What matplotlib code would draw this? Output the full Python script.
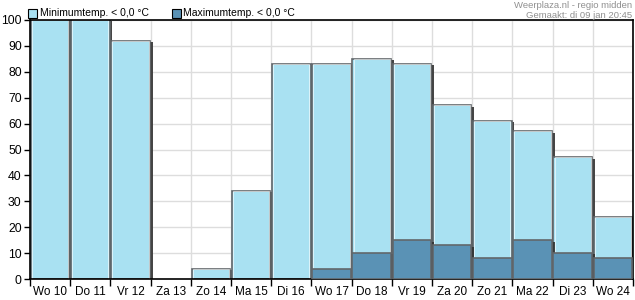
import matplotlib.pyplot as plt
from matplotlib.patches import Rectangle
import matplotlib.patheffects as pe
import numpy as np

plt.rcParams['font.family'] = ['Liberation Sans', 'DejaVu Sans']

dagen = ["Wo 10", "Do 11", "Vr 12", "Za 13", "Zo 14", "Ma 15", "Di 16", "Wo 17",
         "Do 18", "Vr 19", "Za 20", "Zo 21", "Ma 22", "Di 23", "Wo 24"]
min_temp = [100, 100, 92, 0, 4, 34, 83, 83, 85, 83, 67, 61, 57, 47, 24]   # kans min < 0
max_temp = [0, 0, 0, 0, 0, 0, 0, 4, 10, 15, 13, 8, 15, 10, 8]            # kans max < 0

licht = '#a9e1f2'
donker = '#5a92b5'
rand = '#62676b'

fig = plt.figure(figsize=(6.35, 3.0), dpi=100)
ax = fig.add_axes([30/635, 21/300, 603/635, 259/300])

x = np.arange(len(dagen))
schaduw = [pe.SimplePatchShadow(offset=(2, -1), shadow_rgbFace='#333333', alpha=0.9), pe.Normal()]

b1 = ax.bar(x, min_temp, width=0.96, color=licht, edgecolor=rand, linewidth=1.2, zorder=2)
b2 = ax.bar(x, max_temp, width=0.96, color=donker, edgecolor=rand, linewidth=1.2, zorder=3)
# witte binnenrand
ax.bar(x, min_temp, width=0.90, bottom=0, fill=False, edgecolor='white', linewidth=0.6,
       alpha=0.7, zorder=2.5)
for b in list(b1) + list(b2):
    if b.get_height() > 0:
        b.set_path_effects(schaduw)
    else:
        b.set_visible(False)

ax.set_xlim(-0.5, len(dagen) - 0.5)
ax.set_ylim(0, 100)
ax.set_yticks(range(0, 101, 10))
ax.set_xticks(x)
ax.set_xticklabels(dagen)
ax.set_xticks(np.arange(-0.5, len(dagen)), minor=True)
ax.tick_params(axis='x', which='major', length=0, labelsize=8.5, pad=5)
ax.tick_params(axis='x', which='minor', length=5, width=1, direction='out')
ax.tick_params(axis='y', length=4, width=1, direction='out', labelsize=8.8, pad=2)
ax.grid(True, axis='y', color='#dddddd', linewidth=1, zorder=0)
ax.grid(True, axis='x', which='minor', color='#dddddd', linewidth=1, zorder=0)
ax.set_axisbelow(True)
for s in ax.spines.values():
    s.set_color('black')
    s.set_linewidth(1.2)

# legenda
fig.patches.append(Rectangle((28/635, 1 - 18/300), 9/635, 9/300, transform=fig.transFigure,
                             facecolor=licht, edgecolor='black', linewidth=0.8))
fig.text(40/635, 1 - 13/300, "Minimumtemp. < 0,0 °C", fontsize=7.5, va='center')
fig.patches.append(Rectangle((172/635, 1 - 18/300), 9/635, 9/300, transform=fig.transFigure,
                             facecolor=donker, edgecolor='black', linewidth=0.8))
fig.text(183/635, 1 - 13/300, "Maximumtemp. < 0,0 °C", fontsize=7.5, va='center')

fig.text(632/635, 1 - 5/300, "Weerplaza.nl - regio midden", fontsize=6.8, color='#909090',
         ha='right', va='center')
fig.text(632/635, 1 - 15/300, "Gemaakt: di 09 jan 20:45", fontsize=6.8, color='#909090',
         ha='right', va='center')

fig.savefig('out.png', dpi=100)
